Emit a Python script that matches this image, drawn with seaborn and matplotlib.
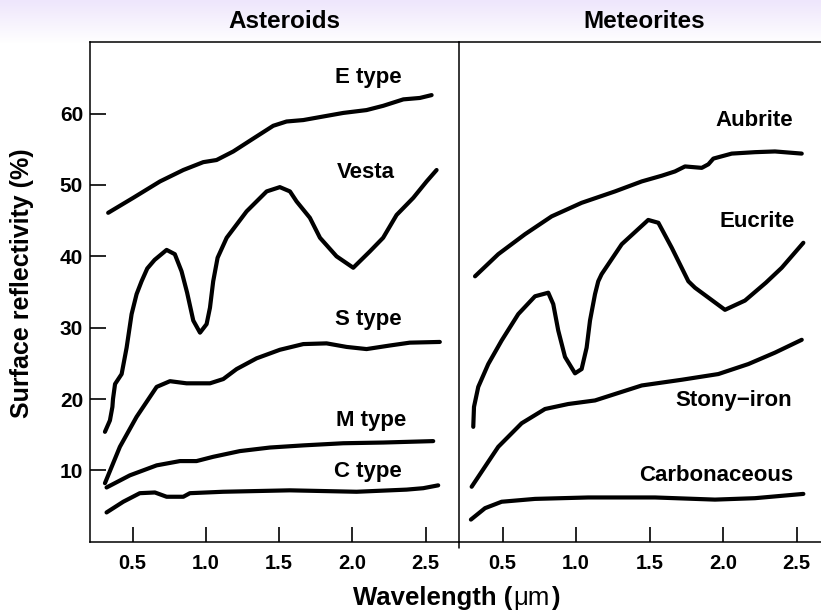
import numpy as np
import pandas as pd
import matplotlib
matplotlib.use("Agg")
import matplotlib.pyplot as plt
import seaborn as sns
from matplotlib.lines import Line2D

# ---- reflectance spectra (wavelength in micrometres, reflectivity in %) ----
e_type_x = [0.333, 0.504, 0.687, 0.846, 0.982, 1.073, 1.187, 1.323, 1.46, 1.551,
            1.665, 1.801, 1.938, 2.097, 2.211, 2.348, 2.461, 2.541]
e_type_y = [46.1, 48.2, 50.5, 52.1, 53.2, 53.5, 54.7, 56.5, 58.3, 58.9,
            59.1, 59.6, 60.1, 60.5, 61.1, 62.0, 62.2, 62.6]

vesta_x = [0.311, 0.345, 0.362, 0.366, 0.380, 0.425, 0.459, 0.493, 0.527, 0.561,
           0.600, 0.650, 0.732, 0.788, 0.834, 0.872, 0.914, 0.960, 1.005,
           1.028, 1.050, 1.080, 1.142, 1.278, 1.415, 1.505, 1.574, 1.619, 1.710,
           1.779, 1.892, 2.006, 2.120, 2.210, 2.302, 2.416, 2.507, 2.575]
vesta_y = [15.4, 17.0, 18.9, 20.0, 22.1, 23.5, 27.2, 31.9, 34.7, 36.5,
           38.3, 39.5, 40.9, 40.3, 37.9, 34.9, 31.0, 29.3, 30.5,
           32.8, 36.5, 39.8, 42.6, 46.3, 49.1, 49.7, 49.1, 47.7, 45.4,
           42.6, 40.0, 38.4, 40.7, 42.6, 45.8, 48.2, 50.5, 52.1]

s_type_x = [0.311, 0.413, 0.527, 0.664, 0.755, 0.868, 1.028, 1.119, 1.210, 1.346,
            1.505, 1.665, 1.824, 1.961, 2.097, 2.256, 2.392, 2.597]
s_type_y = [8.2, 13.3, 17.5, 21.7, 22.5, 22.2, 22.2, 22.8, 24.2, 25.7,
            26.9, 27.7, 27.8, 27.3, 27.0, 27.5, 27.9, 28.0]

m_type_x = [0.322, 0.481, 0.664, 0.823, 0.936, 1.050, 1.232, 1.437, 1.665, 1.938,
            2.211, 2.552]
m_type_y = [7.6, 9.3, 10.7, 11.3, 11.3, 11.9, 12.7, 13.2, 13.5, 13.8,
            13.9, 14.1]

c_type_x = [0.322, 0.436, 0.549, 0.652, 0.732, 0.846, 0.891, 1.118, 1.573, 2.029,
            2.370, 2.484, 2.586]
c_type_y = [4.1, 5.6, 6.8, 6.9, 6.3, 6.3, 6.8, 7.0, 7.2, 7.0,
            7.3, 7.5, 7.9]

aubrite_x = [0.312, 0.470, 0.652, 0.833, 1.037, 1.264, 1.446, 1.582, 1.672, 1.740,
             1.854, 1.899, 1.933, 2.058, 2.216, 2.352, 2.534]
aubrite_y = [37.2, 40.3, 43.1, 45.6, 47.5, 49.1, 50.5, 51.3, 51.9, 52.6,
             52.4, 52.9, 53.7, 54.4, 54.6, 54.7, 54.4]

eucrite_x = [0.300, 0.305, 0.334, 0.402, 0.493, 0.606, 0.720, 0.810, 0.844, 0.878,
             0.924, 0.992, 1.037, 1.071, 1.094, 1.128, 1.150, 1.173, 1.310, 1.490,
             1.559, 1.650, 1.763, 1.808, 2.012, 2.148, 2.290, 2.398, 2.545]
eucrite_y = [16.1, 18.9, 21.7, 24.9, 28.2, 31.9, 34.4, 34.9, 33.3, 29.6,
             25.9, 23.6, 24.2, 27.2, 31.0, 34.7, 36.5, 37.5, 41.7, 45.1,
             44.7, 41.2, 36.5, 35.6, 32.5, 33.8, 36.3, 38.4, 41.9]

stony_iron_x = [0.289, 0.402, 0.470, 0.629, 0.788, 0.946, 1.128, 1.264, 1.446, 1.718,
                1.967, 2.171, 2.352, 2.534]
stony_iron_y = [7.7, 11.2, 13.3, 16.6, 18.6, 19.3, 19.8, 20.7, 21.9, 22.7,
                23.5, 24.9, 26.5, 28.3]

carbonaceous_x = [0.284, 0.380, 0.493, 0.720, 1.082, 1.536, 1.944, 2.216, 2.545]
carbonaceous_y = [3.1, 4.7, 5.6, 6.0, 6.2, 6.2, 5.9, 6.1, 6.7]

asteroid_names = ["E type", "Vesta", "S type", "M type", "C type"]
meteorite_names = ["Aubrite", "Eucrite", "Stony\u2212iron", "Carbonaceous"]

x_ticks = [0.5, 1.0, 1.5, 2.0, 2.5]
x_tick_labels = ["0.5", "1.0", "1.5", "2.0", "2.5"]
y_ticks = [10, 20, 30, 40, 50, 60]
y_tick_labels = ["10", "20", "30", "40", "50", "60"]


def spectra_frame(names, xs, ys):
    rows = []
    for name, x, y in zip(names, xs, ys):
        for i, (a, b) in enumerate(zip(x, y)):
            rows.append({"series": name, "order": i, "wavelength": a, "reflectivity": b})
    return pd.DataFrame(rows)


asteroids = spectra_frame(asteroid_names,
                          [e_type_x, vesta_x, s_type_x, m_type_x, c_type_x],
                          [e_type_y, vesta_y, s_type_y, m_type_y, c_type_y])
meteorites = spectra_frame(meteorite_names,
                           [aubrite_x, eucrite_x, stony_iron_x, carbonaceous_x],
                           [aubrite_y, eucrite_y, stony_iron_y, carbonaceous_y])

# ---- style ----
sns.set_theme(style="ticks")
plt.rcParams["font.family"] = ["Liberation Sans", "DejaVu Sans"]
plt.rcParams.update({
    "axes.linewidth": 1.1,
    "text.color": "black",
    "axes.labelcolor": "black",
    "xtick.color": "black",
    "ytick.color": "black",
    "axes.edgecolor": "black",
})

W, H = 821, 615
fig = plt.figure(figsize=(W / 100, H / 100), dpi=100)
fig.patch.set_facecolor("white")

# soft lavender band behind the panel titles, fading to white downwards
band_h = 44
fade = np.linspace(0, 1, band_h)[:, None, None]
lavender = np.array([238, 230, 252]) / 255.0
band_img = lavender * (1 - fade) + fade * np.ones(3)
band_img = np.repeat(band_img, W, axis=1)
fig.figimage(band_img, xo=0, yo=H - band_h, origin="upper", zorder=-10)

ax_top, ax_bot = 42.3, 541.7
x_div = 459
ax_h = ax_bot - ax_top
ax_l = fig.add_axes([90 / W, 1 - ax_bot / H, (x_div - 90) / W, ax_h / H])
ax_r = fig.add_axes([x_div / W, 1 - ax_bot / H, (W - x_div) / W, ax_h / H])

line_kw = dict(color="black", linewidth=3.0, solid_capstyle="round", solid_joinstyle="round")
sns.lineplot(data=asteroids, x="wavelength", y="reflectivity", units="series",
             estimator=None, sort=False, ax=ax_l, **line_kw)
sns.lineplot(data=meteorites, x="wavelength", y="reflectivity", units="series",
             estimator=None, sort=False, ax=ax_r, **line_kw)

ax_l.set_xlim(0.209, 2.728)
ax_r.set_xlim(0.203, 2.665)
for ax in (ax_l, ax_r):
    ax.set_ylim(0, 70)
    ax.set_facecolor("none")
    ax.set_xlabel("")
    ax.set_ylabel("")
    ax.set_xticks(x_ticks)
    ax.set_xticklabels(x_tick_labels, fontsize=14.5, fontweight="bold", color="black")
    ax.tick_params(axis="x", which="major", bottom=True, top=False, direction="in",
                   length=11, width=1.2, pad=8.5, color="black", labelcolor="black")
    for s in ax.spines.values():
        s.set_color("black")
        s.set_linewidth(1.1)
        s.set_visible(True)
    ax.spines["right"].set_visible(False)

ax_l.set_yticks(y_ticks)
ax_l.set_yticklabels(y_tick_labels, fontsize=15, fontweight="bold", color="black")
ax_l.tick_params(axis="y", which="major", left=True, right=False, direction="in",
                 length=11.5, width=1.2, pad=5, color="black", labelcolor="black")
ax_r.set_yticks([])
ax_r.tick_params(axis="y", left=False, right=False)
ax_r.spines["left"].set_visible(False)

# panel divider, running slightly below the baseline
fig.add_artist(Line2D([x_div / W, x_div / W], [1 - ax_top / H, 1 - 548 / H],
                      color="black", linewidth=1.1, transform=fig.transFigure))

# curve labels
lab_kw = dict(ha="center", va="center", fontsize=16, fontweight="bold", color="black")
for (x, y), name in zip([(2.108, 65.1), (2.094, 51.7), (2.108, 31.1), (2.131, 17.0), (2.104, 9.8)],
                        asteroid_names):
    ax_l.text(x, y, name, **lab_kw)
for (x, y), name in zip([(2.21, 59.0), (2.232, 44.9), (2.073, 19.8), (1.951, 9.3)],
                        meteorite_names):
    ax_r.text(x, y, name, **lab_kw)

# panel titles
fig.text(284 / W, 1 - 28 / H, "Asteroids", ha="center", va="baseline",
         fontsize=17.5, fontweight="bold", color="black")
fig.text(644 / W, 1 - 28 / H, "Meteorites", ha="center", va="baseline",
         fontsize=17.5, fontweight="bold", color="black")

# axis titles
fig.text(22.5 / W, 1 - 283 / H, "Surface reflectivity (%)", rotation=90,
         ha="center", va="center", fontsize=18, fontweight="bold", color="black")

renderer = fig.canvas.get_renderer()
parts = [("Wavelength (", "bold"), ("\u03bcm", "normal"), (")", "bold")]
texts = [fig.text(0, 1 - 605 / H, s, ha="left", va="baseline", fontsize=18.5,
                  fontweight=w, color="black")
         for s, w in parts]
widths = [t.get_window_extent(renderer).width for t in texts]
x0 = 455 - sum(widths) / 2
for t, w in zip(texts, widths):
    t.set_x(x0 / W)
    x0 += w + 1

fig.savefig("out.png", dpi=100, facecolor="white")
